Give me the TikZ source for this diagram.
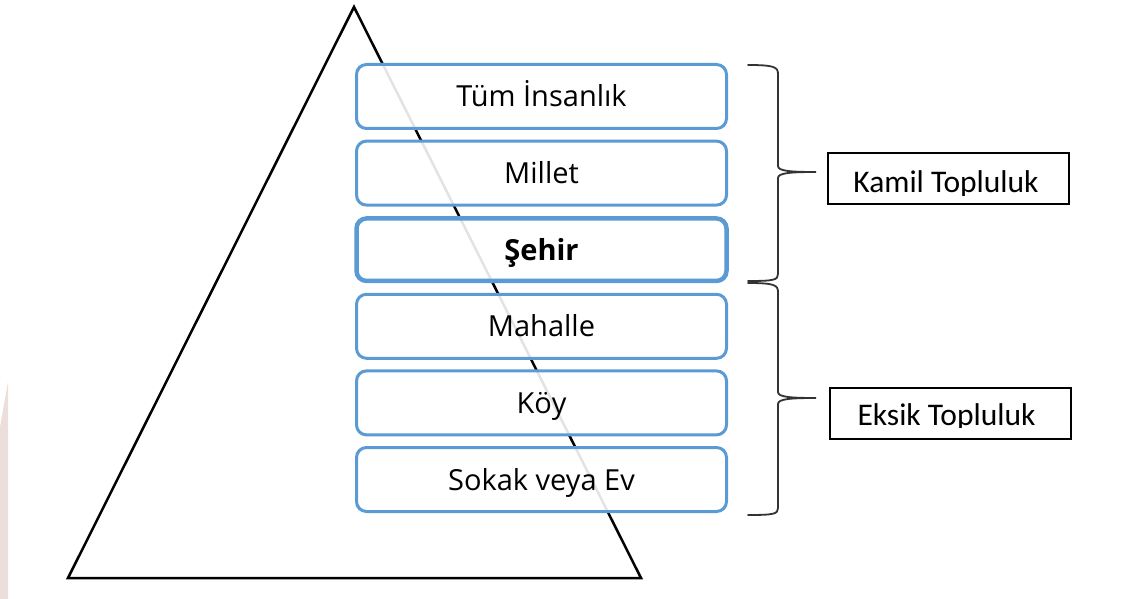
\documentclass[tikz,border=0pt]{standalone}
\usepackage{fontspec}
\setmainfont{Carlito}
\newfontfamily\levelfont{Open Sans}
\usetikzlibrary{positioning}

\definecolor{levelblue}{HTML}{5B9BD5}
\definecolor{edgepink}{HTML}{EBDEDB}

\tikzset{
  level/.style={draw=levelblue, line width=3pt, rounded corners=10pt,
    fill=white, fill opacity=0.89, text opacity=1,
    minimum width=370pt, minimum height=64pt, inner sep=0pt,
    text height=21pt, text depth=0pt, font=\levelfont\fontsize{29}{34}\selectfont},
  mainlevel/.style={level, line width=4.5pt, minimum height=62.5pt,
    font=\levelfont\bfseries\fontsize{29}{34}\selectfont},
  groupbox/.style={draw, line width=2pt, minimum width=241pt,
    minimum height=51pt, inner sep=0pt},
  grouptext/.style={anchor=base, inner sep=0pt, font=\fontsize{31.5}{36}\selectfont},
  curly/.style={draw=black!80, line width=1.8pt, line cap=round}
}

\begin{document}
\begin{tikzpicture}[x=1pt, y=-1pt]
    \useasboundingbox (0,0) rectangle (1130,599);
    % faint strip at the left edge
    \fill[edgepink] (0,427) -- (8,382) -- (8,599) -- (0,599) -- cycle;
    % Draw the pyramid
    \draw[line width=2.5pt] (354,7) coordinate (apex)
      -- (641,578) coordinate (right) -- (68,578) coordinate (left) -- cycle;

    % Draw the levels
    \node[level] (insanlik) at (541.5,96.5) {Tüm İnsanlık};
    \node[level, below=9.6pt of insanlik] (millet) {Millet};
    \node[mainlevel, below=9.6pt of millet] (sehir) {Şehir};
    \node[level, below=9.6pt of sehir] (mahalle) {Mahalle};
    \node[level, below=9.6pt of mahalle] (koy) {Köy};
    \node[level, below=9.6pt of koy] (sokak) {Sokak veya Ev};

    % Draw the two braces
    \draw[curly] (748,65) .. controls (774,65) and (778,67) .. (778,74)
      -- (778,166) .. controls (778,171) and (790,172) .. (816,172)
      .. controls (790,172) and (778,173) .. (778,178)
      -- (778,274) .. controls (778,280) and (774,281) .. (748,281);
    \draw[curly] (748,283) .. controls (774,283) and (778,285) .. (778,292)
      -- (778,392) .. controls (778,397) and (790,398) .. (816,398)
      .. controls (790,398) and (778,399) .. (778,404)
      -- (778,508) .. controls (778,514) and (774,515) .. (748,515);

    % Draw the group labels
    \node[groupbox] (kamil) at (948.5,178.5) {};
    \node[groupbox] (eksik) at (950.5,413.5) {};
    \begin{scope}
      \clip (828,153) rectangle (1069,195.5);
      \node[grouptext] (kamiltext) at (946,193) {Kamil Topluluk};
    \end{scope}
    \begin{scope}
      \clip (830,388) rectangle (1071,427.5);
      \node[grouptext] (eksiktext) at (946.5,425) {Eksik Topluluk};
    \end{scope}
  \end{tikzpicture}
\end{document}
